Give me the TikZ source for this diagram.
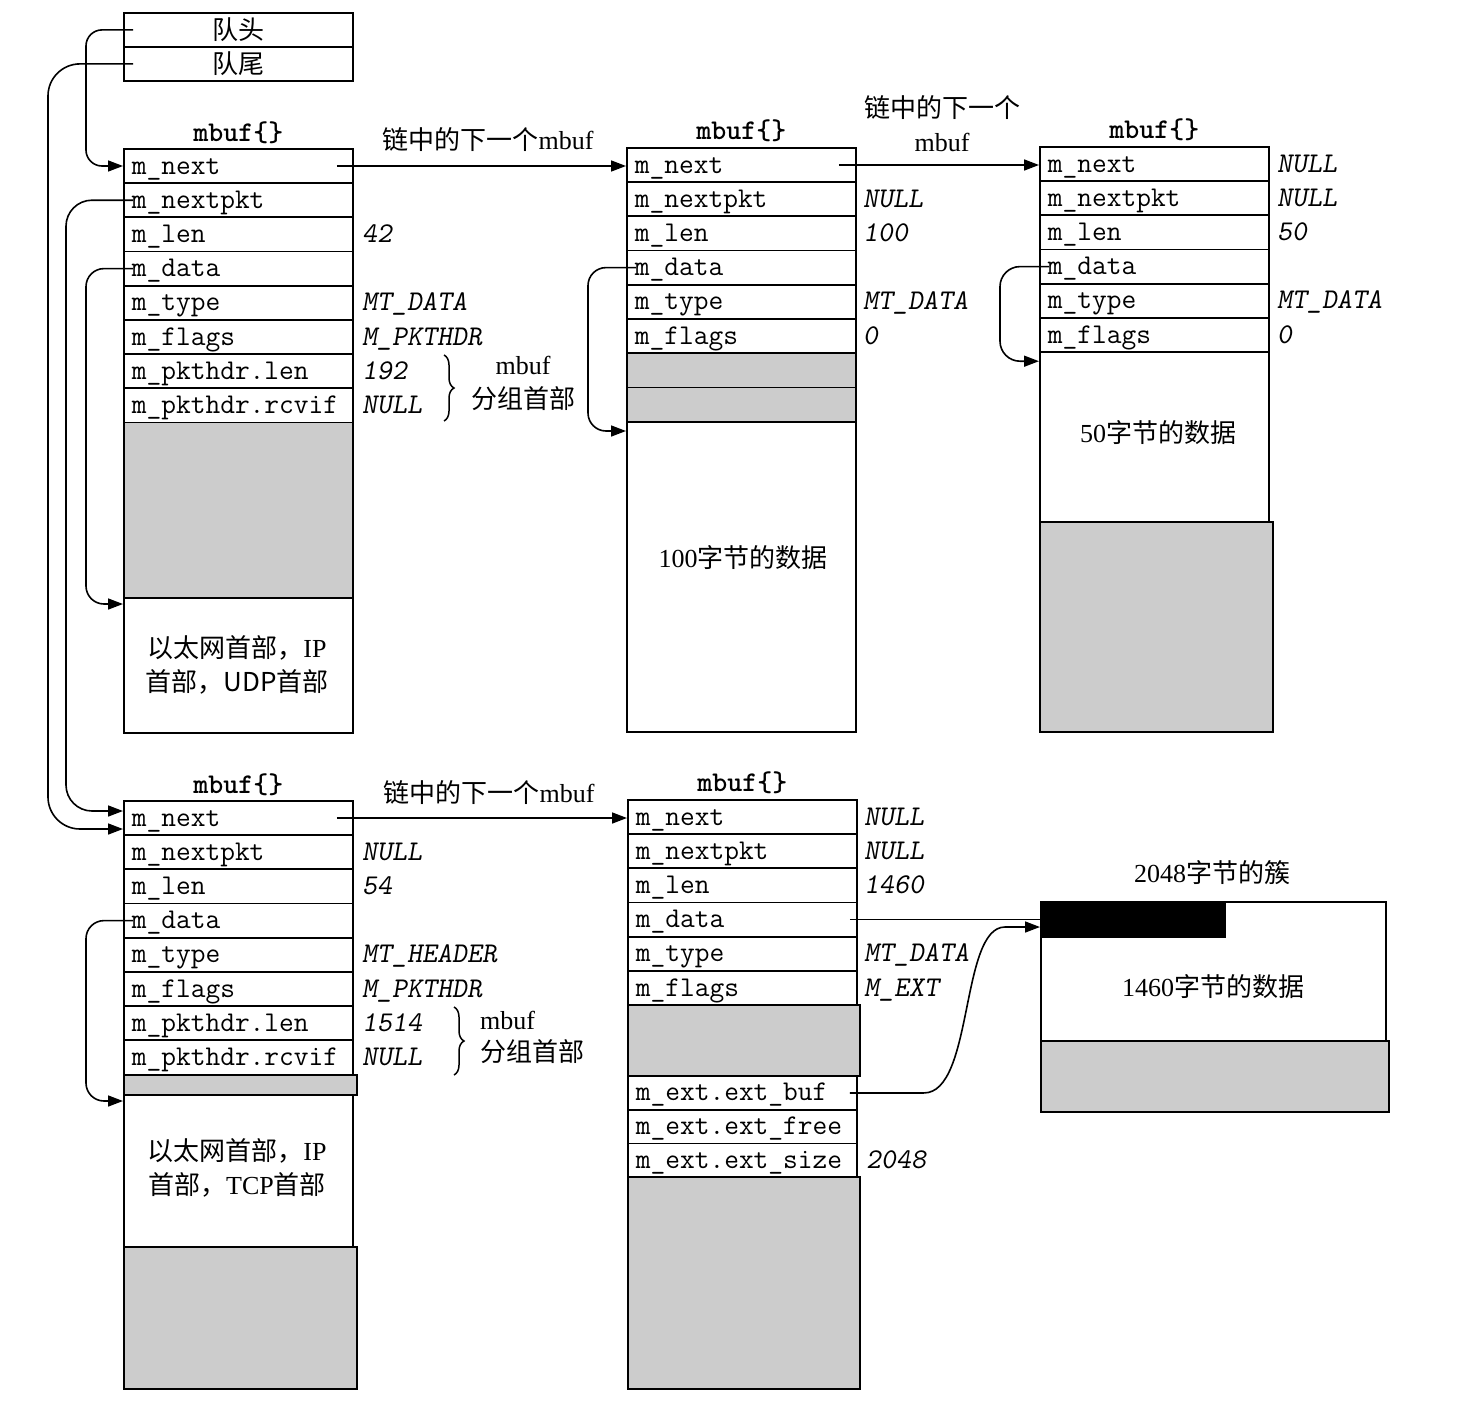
\documentclass[tikz,border=0pt]{standalone}
\usepackage{fontspec}
\setmainfont{Liberation Serif}
\newfontfamily\cjk{Noto Sans CJK SC}
\usetikzlibrary{arrows.meta,decorations.pathreplacing}
\definecolor{shade}{HTML}{CCCCCC}
\begin{document}
\begin{tikzpicture}[x=1pt,y=1pt,
  cell/.style={draw, line width=1.8pt, minimum width=229pt, minimum height=34.2pt,
    inner xsep=8pt, inner ysep=0pt, text width=213pt, align=left,
    text height=16pt, text depth=0pt, font=\ttfamily\fontsize{28.6}{28.6}\selectfont, anchor=north west},
  val/.style={anchor=west, inner sep=0pt, font=\ttfamily\slshape\fontsize{28.6}{28.6}\selectfont,
    text height=16pt, text depth=0pt},
  title/.style={font=\ttfamily\bfseries\fontsize{28.6}{28.6}\selectfont, inner sep=0pt},
  lbl/.style={font=\fontsize{26}{34}\selectfont, inner sep=0pt, align=center},
  blk/.style={draw, line width=1.8pt, anchor=north west, inner sep=0pt},
  gblk/.style={blk, fill=shade},
  qcell/.style={draw, line width=1.8pt, minimum width=229pt, minimum height=34pt, inner sep=0pt,
    anchor=north west, font=\cjk\fontsize{26}{26}\selectfont},
  ptr/.style={line width=1.6pt, -{Triangle[length=15pt,width=11pt]}},
  pline/.style={line width=1.6pt},
  brc/.style={decorate, decoration={brace, amplitude=10pt}, line width=1.5pt}
]
\useasboundingbox (0,0) rectangle (1474,-1402);

% queue head
\node[qcell] (q1) at (123,-12) {队头};
\node[qcell] (q2) at (123,-46) {队尾};

% ---------- mbuf 1 ----------
\foreach \t [count=\i] in {m\_next,m\_nextpkt,m\_len,m\_data,m\_type,m\_flags,m\_pkthdr.len,m\_pkthdr.rcvif}
  \node[cell] (a\i) at (123,{-148-34.2*(\i-1)}) {\t};
\node[gblk, minimum width=229pt, minimum height=175.4pt] (a9) at (123,-421.6) {};
\node[blk, minimum width=229pt, minimum height=135pt] (a10) at (123,-597) {};
\node[lbl] (a10t) at (237,-665) {{\cjk 以太网首部，}IP\\{\cjk 首部，UDP首部}};
\node[title] (a0) at ([yshift=15pt]a1.north) {mbuf\{\}};
\node[val] (av3) at ([xshift=8pt]a3.east) {42};
\node[val] (av5) at ([xshift=8pt]a5.east) {MT\_DATA};
\node[val] (av6) at ([xshift=8pt]a6.east) {M\_PKTHDR};
\node[val] (av7) at ([xshift=8pt]a7.east) {192};
\node[val] (av8) at ([xshift=8pt]a8.east) {NULL};
\draw[brc] (444,-355) -- (444,-421);
\node[lbl] (ab) at (523,-383) {mbuf\\{\cjk 分组首部}};

% ---------- mbuf 2 ----------
\foreach \t [count=\i] in {m\_next,m\_nextpkt,m\_len,m\_data,m\_type,m\_flags}
  \node[cell] (c\i) at (626,{-147-34.2*(\i-1)}) {\t};
\node[gblk, minimum width=229pt, minimum height=34.4pt] (c7) at (626,-352.2) {};
\node[gblk, minimum width=229pt, minimum height=34.4pt] (c8) at (626,-386.6) {};
\node[blk, minimum width=229pt, minimum height=310pt] (c9) at (626,-421) {};
\node[lbl] (c9t) at (743,-558) {100{\cjk 字节的数据}};
\node[title] (c0) at ([yshift=16pt]c1.north) {mbuf\{\}};
\node[val] (cv2) at ([xshift=6pt]c2.east) {NULL};
\node[val] (cv3) at ([xshift=6pt]c3.east) {100};
\node[val] (cv5) at ([xshift=6pt]c5.east) {MT\_DATA};
\node[val] (cv6) at ([xshift=6pt]c6.east) {0};

% ---------- mbuf 3 ----------
\foreach \t [count=\i] in {m\_next,m\_nextpkt,m\_len,m\_data,m\_type,m\_flags}
  \node[cell] (f\i) at (1039,{-146-34.2*(\i-1)}) {\t};
\node[blk, minimum width=229pt, minimum height=170pt] (f7) at (1039,-351.2) {};
\node[gblk, minimum width=233pt, minimum height=210pt] (f8) at (1039,-521) {};
\node[lbl] (f7t) at (1158,-433) {50{\cjk 字节的数据}};
\node[title] (f0) at ([yshift=16pt]f1.north) {mbuf\{\}};
\node[val] (fv1) at ([xshift=7pt]f1.east) {NULL};
\node[val] (fv2) at ([xshift=7pt]f2.east) {NULL};
\node[val] (fv3) at ([xshift=7pt]f3.east) {50};
\node[val] (fv5) at ([xshift=7pt]f5.east) {MT\_DATA};
\node[val] (fv6) at ([xshift=7pt]f6.east) {0};

% ---------- mbuf 4 ----------
\foreach \t [count=\i] in {m\_next,m\_nextpkt,m\_len,m\_data,m\_type,m\_flags,m\_pkthdr.len,m\_pkthdr.rcvif}
  \node[cell] (b\i) at (123,{-800-34.2*(\i-1)}) {\t};
\node[gblk, minimum width=233pt, minimum height=20pt] (b9) at (123,-1074) {};
\node[blk, minimum width=229pt, minimum height=152pt] (b10) at (123,-1094) {};
\node[gblk, minimum width=233pt, minimum height=142pt] (b11) at (123,-1246) {};
\node[lbl] (b10t) at (237,-1168) {{\cjk 以太网首部，}IP\\{\cjk 首部，}TCP{\cjk 首部}};
\node[title] (b0) at ([yshift=15pt]b1.north) {mbuf\{\}};
\node[val] (bv2) at ([xshift=8pt]b2.east) {NULL};
\node[val] (bv3) at ([xshift=8pt]b3.east) {54};
\node[val] (bv5) at ([xshift=8pt]b5.east) {MT\_HEADER};
\node[val] (bv6) at ([xshift=8pt]b6.east) {M\_PKTHDR};
\node[val] (bv7) at ([xshift=8pt]b7.east) {1514};
\node[val] (bv8) at ([xshift=8pt]b8.east) {NULL};
\draw[brc] (454,-1007) -- (454,-1075);
\node[lbl, anchor=west] (bb1) at (480,-1020) {mbuf};
\node[lbl, anchor=west] (bb2) at (480,-1052) {\cjk 分组首部};

% ---------- mbuf 5 ----------
\foreach \t [count=\i] in {m\_next,m\_nextpkt,m\_len,m\_data,m\_type,m\_flags}
  \node[cell] (d\i) at (627,{-799-34.2*(\i-1)}) {\t};
\node[gblk, minimum width=232pt, minimum height=71pt] (d7) at (627,-1004.2) {};
\foreach \t [count=\i] in {m\_ext.ext\_buf,m\_ext.ext\_free,m\_ext.ext\_size}
  \node[cell, minimum height=33.7pt] (e\i) at (627,{-1075.2-33.7*(\i-1)}) {\t};
\node[gblk, minimum width=232pt, minimum height=212pt] (d8) at (627,-1176.3) {};
\node[title] (d0) at ([yshift=16pt]d1.north) {mbuf\{\}};
\node[val] (dv1) at ([xshift=6pt]d1.east) {NULL};
\node[val] (dv2) at ([xshift=6pt]d2.east) {NULL};
\node[val] (dv3) at ([xshift=6pt]d3.east) {1460};
\node[val] (dv5) at ([xshift=6pt]d5.east) {MT\_DATA};
\node[val] (dv6) at ([xshift=6pt]d6.east) {M\_EXT};
\node[val] (ev3) at ([xshift=8pt]e3.east) {2048};

% ---------- cluster ----------
\node[blk, minimum width=345pt, minimum height=139pt] (cl) at (1040,-901) {};
\node[blk, fill=black, minimum width=184pt, minimum height=35pt] (bar) at (1040,-901) {};
\node[gblk, minimum width=348pt, minimum height=71pt] (clg) at (1040,-1040) {};
\node[lbl] (clt) at (1213,-987) {1460{\cjk 字节的数据}};
\node[lbl] (cll) at (1212,-873) {2048{\cjk 字节的簇}};

% ---------- next-in-chain labels ----------
\node[lbl] (n1) at (488,-140) {{\cjk 链中的下一个}mbuf};
\node[lbl] (n2) at (942,-124) {{\cjk 链中的下一个}\\mbuf};
\node[lbl] (n3) at (489,-793) {{\cjk 链中的下一个}mbuf};

% ---------- connectors ----------
\draw[ptr, rounded corners=16pt] ([xshift=10pt]q1.west) -- ([xshift=-37pt]q1.west) |- (a1.west);
\draw[ptr, rounded corners=32pt] ([xshift=10pt]q2.west) -- ([xshift=-75pt]q2.west) |- ([yshift=-11pt]b1.west);
\draw[ptr, rounded corners=26pt] ([xshift=10pt]a2.west) -- ([xshift=-57pt]a2.west) |- ([yshift=7pt]b1.west);
\draw[ptr, rounded corners=18pt] ([xshift=10pt]a4.west) -- ([xshift=-37pt]a4.west) |- ([yshift=-7pt]a10.north west);
\draw[ptr, rounded corners=18pt] ([xshift=10pt]c4.west) -- ([xshift=-38pt]c4.west) |- ([yshift=-10pt]c9.north west);
\draw[ptr, rounded corners=20pt] ([xshift=10pt]f4.west) -- ([xshift=-39pt]f4.west) |- ([yshift=-10pt]f7.north west);
\draw[ptr, rounded corners=18pt] ([xshift=10pt]b4.west) -- ([xshift=-37pt]b4.west) |- ([yshift=-7pt]b10.north west);

\draw[ptr] ([xshift=-17pt]a1.east) -- (a1.east -| c1.west);
\draw[ptr] ([xshift=-18pt]c1.east) -- (c1.east -| f1.west);
\draw[ptr] ([xshift=-17pt]b1.east) -- (b1.east -| d1.west);

\draw[pline] ([xshift=-8pt]d4.east) -- (d4.east -| bar.west);
\draw[ptr] ([xshift=-8pt]e1.east) -- ++(74,0)
  .. controls +(50,0) and +(-45,0) .. ([xshift=-35pt,yshift=-26pt]cl.north west)
  -- ([yshift=-26pt]cl.north west);
\end{tikzpicture}
\end{document}
